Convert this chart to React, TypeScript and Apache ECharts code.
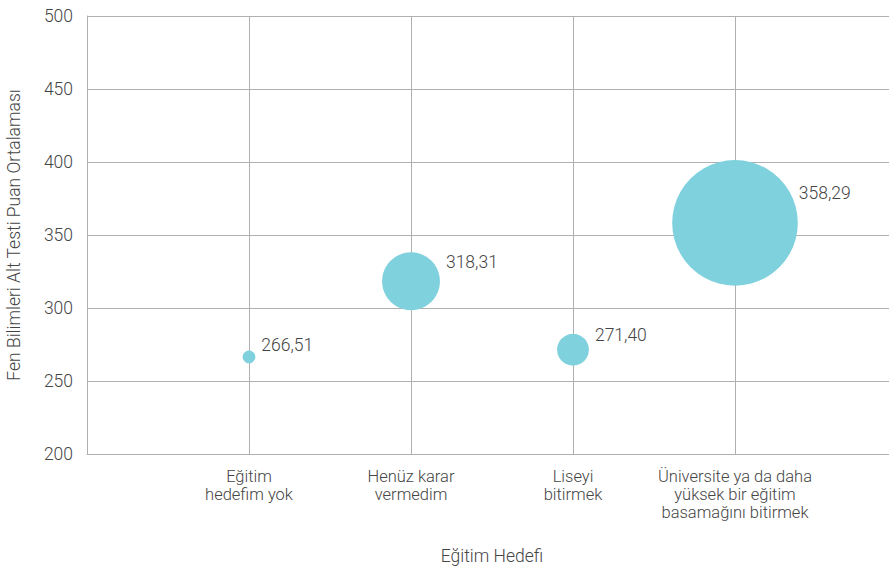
import React, { useEffect, useRef } from "react";
import * as echarts from "echarts";

const categories = [
  "Eğitim\nhedefim yok",
  "Henüz karar\nvermedim",
  "Liseyi\nbitirmek",
  "Üniversite ya da daha\nyüksek bir eğitim\nbasamağını bitirmek",
];
const scores = [266.51, 318.31, 271.4, 358.29];
const shares = [0.8, 16.5, 5.0, 77.7];
const yTicks = [200, 250, 300, 350, 400, 450, 500];

const FONT = "Roboto, 'Noto Sans', sans-serif";
const TEXT = "#454545";
const GRID = "#b0b0b0";
const FS = 17.5;
const W = 300;

const sizeOf = (s: number) => Math.sqrt(s) * 14.25;

export default function App() {
  const ref = useRef<HTMLDivElement>(null);
  useEffect(() => {
    if (!ref.current) return;
    const chart = echarts.init(ref.current, undefined, { renderer: "svg" });
    const data = scores.map((v, i) => {
      const r = sizeOf(shares[i]) / 2;
      return {
        value: [i + 1, v, shares[i]],
        label: {
          offset: [r > 50 ? -5 : 0, -(9 + r * 0.32) - 1],
        },
      };
    });
    chart.setOption({
      animation: false,
      grid: {
        left: 87,
        top: 16,
        width: 810,
        height: 438,
        containLabel: false,
        outerBoundsMode: "none",
      },
      xAxis: {
        type: "value",
        min: 0,
        max: 5,
        interval: 1,
        name: "Eğitim Hedefi",
        nameLocation: "middle",
        nameGap: 93,
        nameTextStyle: { color: TEXT, fontSize: FS, fontFamily: FONT, fontWeight: W },
        axisLine: { show: true, lineStyle: { color: GRID, width: 1 } },
        axisTick: { show: false },
        splitLine: { show: true, lineStyle: { color: GRID, width: 1 } },
        axisLabel: {
          color: TEXT,
          fontSize: 16.5,
          fontFamily: FONT,
          fontWeight: W,
          lineHeight: 18,
          margin: 13,
          formatter: (v: number) => (v >= 1 && v <= categories.length ? categories[v - 1] : ""),
        },
      },
      yAxis: {
        type: "value",
        min: yTicks[0],
        max: yTicks[yTicks.length - 1],
        interval: 50,
        name: "Fen Bilimleri Alt Testi Puan Ortalaması",
        nameLocation: "middle",
        nameGap: 64,
        nameTextStyle: { color: TEXT, fontSize: FS, fontFamily: FONT, fontWeight: W },
        axisLine: { show: true, lineStyle: { color: GRID, width: 1 } },
        axisTick: { show: false },
        splitLine: { show: true, lineStyle: { color: GRID, width: 1 } },
        axisLabel: { color: TEXT, fontSize: FS, fontFamily: FONT, fontWeight: W, margin: 14 },
      },
      series: [
        {
          type: "scatter",
          data,
          symbolSize: (val: number[]) => sizeOf(val[2]),
          itemStyle: { color: "#80d1de", opacity: 1 },
          label: {
            show: true,
            position: "right",
            distance: 6,
            color: TEXT,
            fontSize: FS,
            fontFamily: FONT,
            fontWeight: W,
            formatter: (p: any) => p.value[1].toFixed(2).replace(".", ","),
          },
        },
      ],
    });
    return () => chart.dispose();
  }, []);
  return (
    <div
      ref={ref}
      style={{ position: "fixed", left: 0, top: 0, width: 889, height: 567, background: "#fff" }}
    />
  );
}
